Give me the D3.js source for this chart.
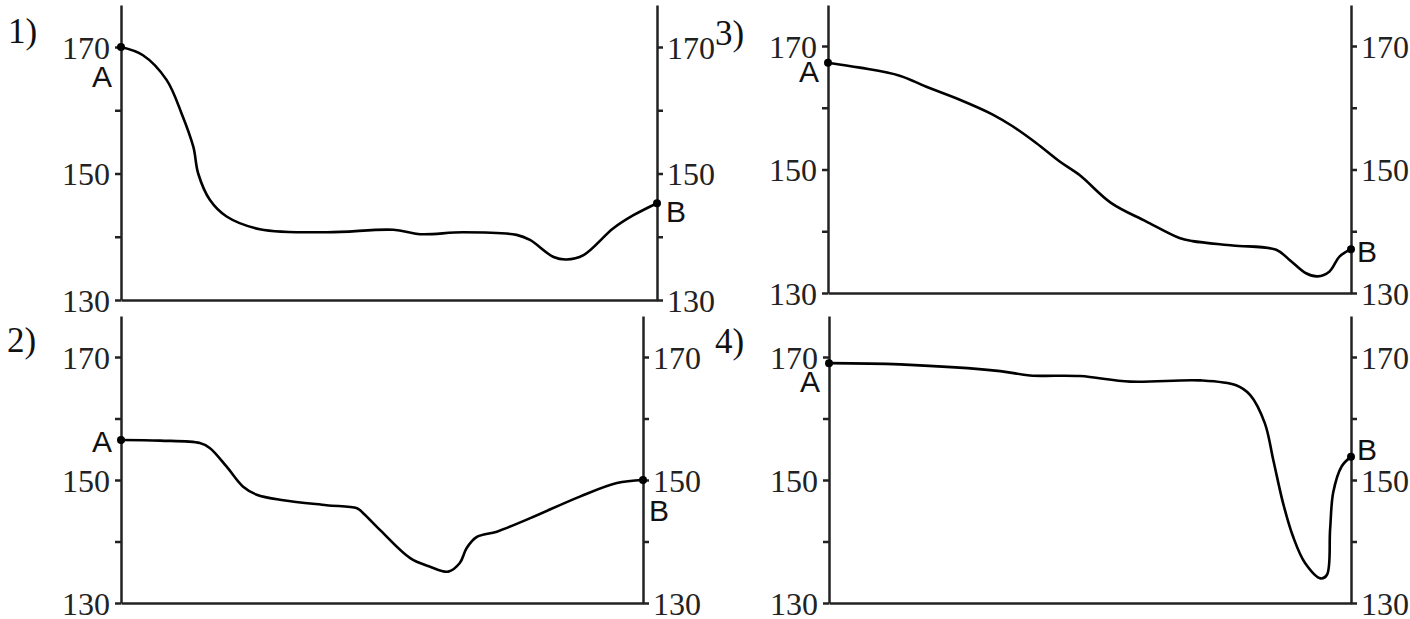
<!DOCTYPE html>
<html lang="en">
<head>
    <meta charset="utf-8">
    <title>Profiles A-B</title>
    <script src="https://d3js.org/d3.v7.min.js"></script>
    <style>
        body { margin: 0; background: #fff; }
        svg { display: block; }
        .axis path, .axis line { stroke: #222; stroke-width: 2.5px; }
        .axis text { font-family: "Liberation Serif", "Times New Roman", serif; font-size: 32px; fill: #222; }
        .profile { fill: none; stroke: #000; stroke-width: 2.6px; }
        .pt { fill: #000; }
        .ab { font-family: "Liberation Sans", Arial, sans-serif; font-size: 30px; fill: #111; }
        .num { font-family: "Liberation Serif", "Times New Roman", serif; font-size: 35px; fill: #111; }
    </style>
</head>
<body>
<div id="chart"></div>
<script>
    // distance along the profile (0 = A, 100 = B) and elevation
    var dist1 = [0, 4.1, 8.5, 11.3, 13.5, 14.4, 16.6, 19.7, 25.9, 38.4, 50.8, 55.8, 63.8, 73.8, 76.3, 80.7, 83.1, 86.3, 91.8, 95.6, 100];
    var elev1 = [170, 168.7, 164.8, 159.5, 154.2, 150.0, 145.8, 143.2, 141.2, 140.7, 141.1, 140.4, 140.7, 140.3, 139.5, 136.8, 136.4, 137.1, 141.3, 143.4, 145.3];

    var dist2 = [0, 7.5, 15.1, 17.0, 20.2, 23.4, 26.0, 31.1, 39.4, 45.2, 46.4, 49.6, 55.4, 59.2, 62.7, 64.9, 66.2, 68.1, 72.0, 78.4, 87.9, 95.0, 100];
    var elev2 = [156.5, 156.4, 156.0, 155.2, 152.2, 148.9, 147.6, 146.7, 145.9, 145.4, 144.6, 141.9, 137.3, 135.9, 135.1, 136.5, 138.9, 140.7, 141.6, 143.8, 147.3, 149.5, 150];

    var dist3 = [0, 6.1, 13.7, 18.8, 25.2, 31.5, 35.3, 39.8, 44.3, 48.1, 54.1, 60.8, 67.2, 69.7, 77.4, 85.7, 88.2, 91.4, 93.6, 95.9, 97.8, 100];
    var elev3 = [167.3, 166.5, 165.2, 163.4, 161.3, 158.9, 157.0, 154.3, 151.3, 149.1, 144.6, 141.6, 138.9, 138.4, 137.7, 137.0, 135.4, 133.2, 132.7, 133.5, 135.9, 137.1];

    var dist4 = [0, 13.6, 32.8, 38.5, 48.1, 57.7, 71.1, 78.0, 80.7, 83.5, 85.1, 87.0, 88.9, 91.2, 94.2, 95.4, 96.0, 96.6, 98.2, 100];
    var elev4 = [169.0, 168.8, 167.7, 167.0, 166.9, 166.0, 166.2, 165.4, 163.8, 159.2, 153.3, 146.2, 140.8, 136.5, 134.0, 134.6, 142.0, 148.0, 152.2, 153.8];

    var panelNames = ["1)", "2)", "3)", "4)"];
    var tickVals = [130, 140, 150, 160, 170];
    var tickLabels = [130, 150, 170];

    var W = 1410, H = 619;

    var svg = d3.select("#chart").append("svg")
        .attr("width", W)
        .attr("height", H);

    // layout of the four boxes (pixels)
    var panels = [
        { dist: dist1, elev: elev1, left: 121, right: 657, top: 5, y170: 47, bottom: 300,
          nx: 8, ny: 43, aDy: 40, bDx: 9, bDy: 19 },
        { dist: dist2, elev: elev2, left: 121, right: 643, top: 316, y170: 357, bottom: 603,
          nx: 7, ny: 352, aDy: 12, bDx: 6, bDy: 41 },
        { dist: dist3, elev: elev3, left: 828, right: 1351, top: 5, y170: 46, bottom: 293,
          nx: 715, ny: 45, aDy: 19, bDx: 6, bDy: 13 },
        { dist: dist4, elev: elev4, left: 829, right: 1351, top: 316, y170: 357, bottom: 603,
          nx: 715, ny: 353, aDy: 29, bDx: 6, bDy: 3 }
    ];

    function drawPanel(p, i) {
        var g = svg.append("g");

        var x = d3.scaleLinear().domain([0, 100]).range([p.left, p.right]);
        var y = d3.scaleLinear().domain([130, 170]).range([p.bottom, p.y170]);
        // axis line runs a bit above 170
        var yAx = d3.scaleLinear().domain([130, y.invert(p.top)]).range([p.bottom, p.top]);

        var fmt = function (d) { return tickLabels.indexOf(d) >= 0 ? d : ""; };

        g.append("g")
            .attr("class", "axis")
            .attr("transform", "translate(" + p.left + ",0)")
            .call(d3.axisLeft(yAx).tickValues(tickVals).tickFormat(fmt).tickSize(6).tickSizeOuter(0).tickPadding(5))
            .call(function (a) { a.selectAll("text").attr("dy", "0.35em"); });

        g.append("g")
            .attr("class", "axis")
            .attr("transform", "translate(" + p.right + ",0)")
            .call(d3.axisRight(yAx).tickValues(tickVals).tickFormat(fmt).tickSize(6).tickSizeOuter(0).tickPadding(4))
            .call(function (a) { a.selectAll("text").attr("dy", "0.35em"); });

        g.append("g")
            .attr("class", "axis")
            .attr("transform", "translate(0," + p.bottom + ")")
            .call(d3.axisBottom(x).tickValues([]).tickSizeOuter(0));

        var pts = p.dist.map(function (d, k) { return [d, p.elev[k]]; });

        var line = d3.line()
            .x(function (d) { return x(d[0]); })
            .y(function (d) { return y(d[1]); })
            .curve(d3.curveCatmullRom.alpha(0.5));

        g.append("path")
            .attr("class", "profile")
            .attr("d", line(pts));

        var ends = [pts[0], pts[pts.length - 1]];
        g.selectAll(".pt").data(ends)
            .enter().append("circle")
            .attr("class", "pt")
            .attr("cx", function (d) { return x(d[0]); })
            .attr("cy", function (d) { return y(d[1]); })
            .attr("r", 4);

        g.append("text")
            .attr("class", "ab")
            .attr("x", x(0) - 9)
            .attr("y", y(ends[0][1]) + p.aDy)
            .attr("text-anchor", "end")
            .text("A");

        g.append("text")
            .attr("class", "ab")
            .attr("x", x(100) + p.bDx)
            .attr("y", y(ends[1][1]) + p.bDy)
            .text("B");

        svg.append("text")
            .attr("class", "num")
            .attr("x", p.nx)
            .attr("y", p.ny)
            .text(panelNames[i]);
    }

    panels.forEach(drawPanel);
</script>
</body>
</html>
